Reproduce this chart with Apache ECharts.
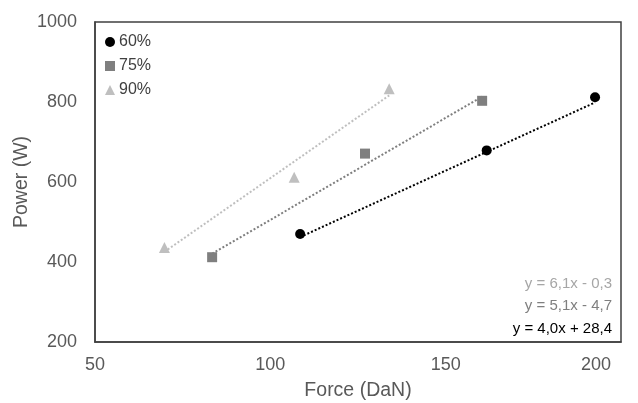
<!DOCTYPE html>
<html>
<head>
<meta charset="utf-8">
<script src="https://cdn.jsdelivr.net/npm/echarts@6/dist/echarts.min.js"></script>
<style>
  html, body { margin: 0; padding: 0; background: #fff; }
  #chart { width: 638px; height: 403px; }
</style>
</head>
<body>
<div id="chart"></div>
<script>
// measured points (force in DaN, power in W)
var names = ['60%', '75%', '90%'];
var force60 = [108.5, 161.7, 192.6];
var power60 = [470, 679, 812];
var force75 = [83.4, 127, 160.4];
var power75 = [412, 671, 803];
var force90 = [69.8, 106.8, 133.9];
var power90 = [436, 612, 833];

// trendline coefficients as printed on the chart
var slopes = [4.0, 5.1, 6.1];
var intercepts = [28.4, -4.7, -0.3];
var equations = ['y = 4,0x + 28,4', 'y = 5,1x - 4,7', 'y = 6,1x - 0,3'];

var xTicks = [50, 100, 150, 200];
var yTicks = [200, 400, 600, 800, 1000];

var colors = ['#000000', '#7f7f7f', '#bfbfbf'];
var eqColors = ['#000000', '#7f7f7f', '#a6a6a6'];
var symbols = ['circle', 'rect', 'triangle'];
var FONT = 'Liberation Sans, Arial, sans-serif';

var forces = [force60, force75, force90];
var powers = [power60, power75, power90];

function pairs(xs, ys) {
  return xs.map(function (x, i) { return [x, ys[i]]; });
}

function trend(k) {
  var lo = Math.min.apply(null, forces[k]);
  var hi = Math.max.apply(null, forces[k]);
  return [[lo, slopes[k] * lo + intercepts[k]], [hi, slopes[k] * hi + intercepts[k]]];
}

var series = [];
for (var k = 0; k < 3; k++) {
  series.push({
    name: names[k] + ' trend',
    type: 'line',
    data: trend(k),
    showSymbol: false,
    silent: true,
    lineStyle: { color: colors[k], width: 2, type: [2, 2] },
    z: 1
  });
}
for (var k = 0; k < 3; k++) {
  series.push({
    name: names[k],
    type: 'scatter',
    data: pairs(forces[k], powers[k]),
    symbol: symbols[k],
    symbolSize: k === 2 ? 11 : 10,
    itemStyle: { color: colors[k], opacity: 1 },
    z: 3
  });
}

var chart = echarts.init(document.getElementById('chart'));
chart.setOption({
  animation: false,
  textStyle: { fontFamily: FONT },
  grid: {
    left: 95, right: 17, top: 22, bottom: 61,
    outerBoundsMode: 'none',
    show: true, borderColor: '#404040', borderWidth: 1.5
  },
  legend: {
    data: names.map(function (n, i) { return { name: n, icon: symbols[i] }; }),
    orient: 'vertical',
    left: 105, top: 34, padding: 0,
    itemWidth: 10, itemHeight: 10, itemGap: 8,
    itemStyle: { opacity: 1 },
    textStyle: { fontSize: 16, color: '#404040', fontFamily: FONT, padding: [0, 0, 0, -1] }
  },
  xAxis: {
    type: 'value',
    min: xTicks[0], max: xTicks[xTicks.length - 1], interval: 50,
    name: 'Force (DaN)', nameLocation: 'middle', nameGap: 39,
    nameMoveOverlap: false,
    nameTextStyle: { fontSize: 19.5, color: '#595959', fontFamily: FONT },
    axisLine: { show: true, lineStyle: { color: '#404040', width: 1.5 } },
    axisTick: { show: false },
    splitLine: { show: false },
    axisLabel: {
      fontSize: 18, color: '#595959', margin: 14, fontFamily: FONT,
      alignMaxLabel: 'right',
      formatter: function (v) { return v === 200 ? '200  ' : String(v); }
    }
  },
  yAxis: {
    type: 'value',
    min: yTicks[0], max: yTicks[yTicks.length - 1], interval: 200,
    name: 'Power (W)', nameLocation: 'middle', nameGap: 63,
    nameMoveOverlap: false,
    nameTextStyle: { fontSize: 19.5, color: '#595959', fontFamily: FONT },
    axisLine: { show: true, lineStyle: { color: '#404040', width: 1.5 } },
    axisTick: { show: false },
    splitLine: { show: false },
    axisLabel: {
      fontSize: 18, color: '#595959', margin: 18, fontFamily: FONT,
      formatter: function (v) { return String(v); }
    }
  },
  graphic: equations.slice().reverse().map(function (t, i) {
    var k = 2 - i;
    return {
      type: 'text',
      right: 26,
      top: 276 + i * 22.5,
      style: { text: t, fill: eqColors[k], font: '15px ' + FONT }
    };
  }),
  series: series
});
</script>
</body>
</html>
